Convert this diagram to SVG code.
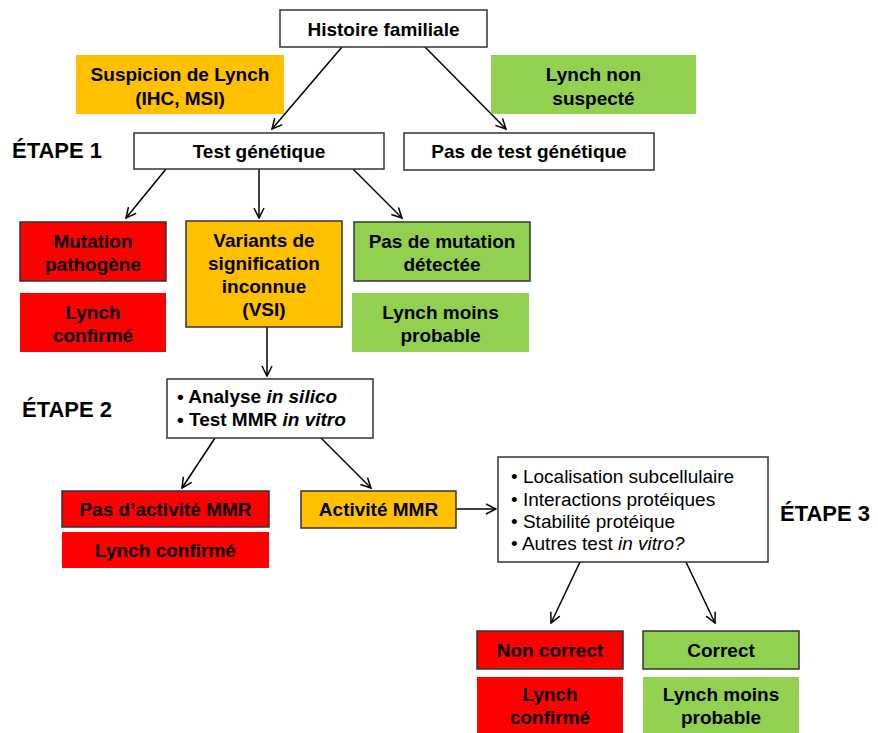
<svg xmlns="http://www.w3.org/2000/svg" width="878" height="733" viewBox="0 0 878 733">
<defs>
<style>
text{font-family:"Liberation Sans",Arial,sans-serif;font-size:19px;fill:#000}
.b{font-weight:bold;text-anchor:middle}
.r{font-weight:normal}
.l{font-weight:bold;font-size:22px}
.bx{stroke:#333;stroke-width:1.5}
.w{fill:#fff}
.red{fill:#ff0000}
.org{fill:#ffc000}
.grn{fill:#92d050}
.c line{stroke:#000;stroke-width:1.5;marker-end:url(#ah)}
</style>
<marker id="ah" viewBox="0 0 12 12" refX="11" refY="6" markerWidth="12" markerHeight="12" markerUnits="userSpaceOnUse" orient="auto">
<path d="M1,1 L11,6 L1,11" fill="none" stroke="#000" stroke-width="1.5"/>
</marker>
</defs>
<rect width="878" height="733" fill="#fff"/>

<g class="c" id="connectors">
<line x1="342" y1="47" x2="272" y2="129"/>
<line x1="425" y1="47" x2="506" y2="129"/>
<line x1="166" y1="169" x2="126" y2="218"/>
<line x1="259" y1="169" x2="259" y2="218"/>
<line x1="353" y1="169" x2="402" y2="218"/>
<line x1="267" y1="327" x2="267" y2="376"/>
<line x1="215" y1="438" x2="182" y2="488"/>
<line x1="321" y1="438" x2="371" y2="488"/>
<line x1="456" y1="509" x2="496" y2="509"/>
<line x1="580" y1="562" x2="551" y2="623"/>
<line x1="686" y1="562" x2="715" y2="623"/>
</g>

<g id="labels">
<text class="l" x="12" y="158">ÉTAPE 1</text>
<text class="l" x="22" y="417">ÉTAPE 2</text>
<text class="l" x="780" y="521">ÉTAPE 3</text>
</g>

<g id="histoire">
<rect class="bx w" x="280" y="10" width="207" height="37"/>
<text class="b" x="383.5" y="36">Histoire familiale</text>
</g>
<g id="suspicion">
<rect class="org" x="76" y="55" width="208" height="59"/>
<text class="b" x="180" y="81">Suspicion de Lynch</text>
<text class="b" x="180" y="105">(IHC, MSI)</text>
</g>
<g id="non-suspecte">
<rect class="grn" x="491" y="55" width="205" height="59"/>
<text class="b" x="593.5" y="81">Lynch non</text>
<text class="b" x="593.5" y="105">suspecté</text>
</g>
<g id="test-genetique">
<rect class="bx w" x="134" y="133" width="250" height="36"/>
<text class="b" x="259" y="158">Test génétique</text>
</g>
<g id="pas-de-test">
<rect class="bx w" x="404" y="133" width="250" height="37"/>
<text class="b" x="529" y="158">Pas de test génétique</text>
</g>

<g id="mutation">
<rect class="bx red" x="20" y="222" width="146" height="59"/>
<text class="b" x="93" y="248">Mutation</text>
<text class="b" x="93" y="271">pathogène</text>
</g>
<g id="lynch-confirme-1">
<rect class="red" x="20" y="293" width="146" height="59"/>
<text class="b" x="93" y="319">Lynch</text>
<text class="b" x="93" y="342">confirmé</text>
</g>
<g id="vsi">
<rect class="bx org" x="186" y="221" width="156" height="106"/>
<text class="b" x="264" y="247">Variants de</text>
<text class="b" x="264" y="270">signification</text>
<text class="b" x="264" y="293">inconnue</text>
<text class="b" x="264" y="316">(VSI)</text>
</g>
<g id="pas-mutation">
<rect class="bx grn" x="354" y="222" width="176" height="59"/>
<text class="b" x="442" y="248">Pas de mutation</text>
<text class="b" x="442" y="271">détectée</text>
</g>
<g id="moins-probable-1">
<rect class="grn" x="352" y="293" width="177" height="59"/>
<text class="b" x="440.5" y="319">Lynch moins</text>
<text class="b" x="440.5" y="342">probable</text>
</g>

<g id="analyse">
<rect class="bx w" x="167" y="379" width="206" height="59"/>
<text x="177" y="403" font-weight="bold">• Analyse <tspan font-style="italic">in silico</tspan></text>
<text x="177" y="426" font-weight="bold">• Test MMR <tspan font-style="italic">in vitro</tspan></text>
</g>

<g id="pas-activite">
<rect class="bx red" x="62" y="491" width="207" height="36"/>
<text class="b" x="165.5" y="516">Pas d’activité MMR</text>
</g>
<g id="lynch-confirme-2">
<rect class="red" x="62" y="532" width="207" height="36"/>
<text class="b" x="165.5" y="557">Lynch confirmé</text>
</g>
<g id="activite">
<rect class="bx org" x="301" y="491" width="155" height="37"/>
<text class="b" x="378.5" y="516">Activité MMR</text>
</g>

<g id="etape3-tests">
<rect class="bx w" x="498" y="457" width="270" height="105"/>
<text class="r" x="511" y="483">• Localisation subcellulaire</text>
<text class="r" x="511" y="506">• Interactions protéiques</text>
<text class="r" x="511" y="528">• Stabilité protéique</text>
<text class="r" x="511" y="550">• Autres test <tspan font-style="italic">in vitro?</tspan></text>
</g>

<g id="non-correct">
<rect class="bx red" x="477" y="631" width="146" height="38"/>
<text class="b" x="550" y="657">Non correct</text>
</g>
<g id="correct">
<rect class="bx grn" x="643" y="631" width="156" height="38"/>
<text class="b" x="721" y="657">Correct</text>
</g>
<g id="lynch-confirme-3">
<rect class="red" x="477" y="677" width="146" height="56"/>
<text class="b" x="550" y="701">Lynch</text>
<text class="b" x="550" y="724">confirmé</text>
</g>
<g id="moins-probable-2">
<rect class="grn" x="643" y="677" width="156" height="56"/>
<text class="b" x="721" y="701">Lynch moins</text>
<text class="b" x="721" y="724">probable</text>
</g>
</svg>
